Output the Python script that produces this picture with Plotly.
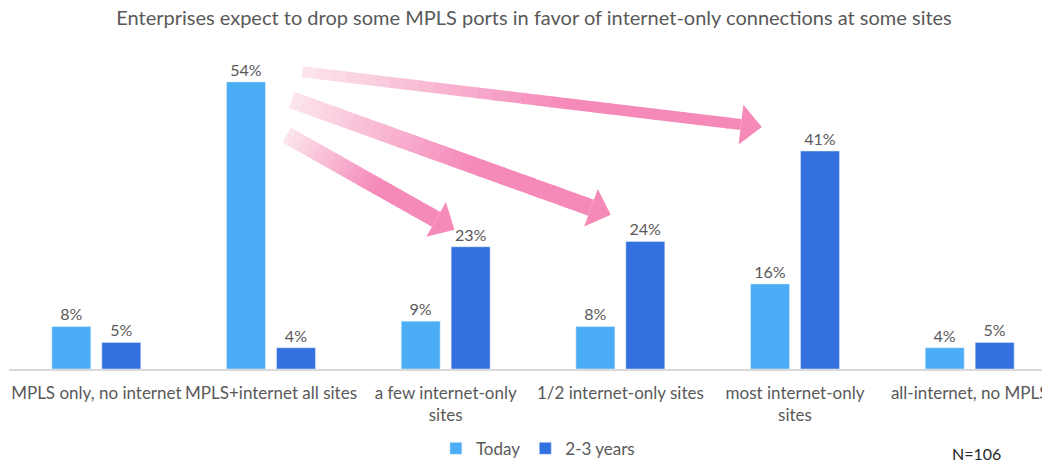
import plotly.graph_objects as go
import numpy as np

categories = ["MPLS only, no internet", "MPLS+internet all sites", "a few internet-only<br>sites",
              "1/2 internet-only sites", "most internet-only<br>sites", "all-internet, no MPLS"]
today = [8, 54, 9, 8, 16, 4]
future = [5, 4, 23, 24, 41, 5]
series_names = ["Today", "2-3 years"]
title_text = "Enterprises expect to drop some MPLS ports in favor of internet-only connections at some sites"
note_text = "N=106"

# arrows: (from category index, from value) -> (to category index, to value), shaft width px
arrows = [
    ((1.18, 55.9), (3.81, 45.5), 11),
    ((1.12, 50.6), (2.945, 29.0), 17),
    ((1.09, 44.0), (2.05, 26.2), 17),
]

W, H = 1042, 464
ML, MR, MT, MB = 9, 0, 50, 95
XR = [-0.5, 5.414]
YR = [0, 60]
PW, PH = W - ML - MR, H - MT - MB

LIGHT = "#4AADF5"
DARK = "#3371E0"
GREY = "#595959"
FONT = "Lato"

fig = go.Figure()
fig.add_bar(x=list(range(len(categories))), y=today, name=series_names[0], marker_color=LIGHT,
            texttemplate="%{y}%", textposition="outside", cliponaxis=False,
            textfont=dict(size=16, color=GREY, family=FONT))
fig.add_bar(x=list(range(len(categories))), y=future, name=series_names[1], marker_color=DARK,
            texttemplate="%{y}%", textposition="outside", cliponaxis=False,
            textfont=dict(size=16, color=GREY, family=FONT))


def to_px(x, y):
    px = ML + (x - XR[0]) / (XR[1] - XR[0]) * PW
    py = MT + PH - (y - YR[0]) / (YR[1] - YR[0]) * PH
    return np.array([px, py])


def to_paper(p):
    return (p[0] - ML) / PW, (MT + PH - p[1]) / PH


def lerp_color(c1, c2, t):
    a = [int(c1[i:i + 2], 16) for i in (1, 3, 5)]
    b = [int(c2[i:i + 2], 16) for i in (1, 3, 5)]
    c = [round(a[k] + (b[k] - a[k]) * t) for k in range(3)]
    return "rgb(%d,%d,%d)" % tuple(c)


def poly_path(pts):
    s = ""
    for i, p in enumerate(pts):
        x, y = to_paper(p)
        s += ("M" if i == 0 else "L") + f"{x:.5f},{y:.5f} "
    return s + "Z"


shapes = []
C0, C1 = "#FCE6EE", "#F589B8"
for (x0, y0), (x1, y1), sw in arrows:
    a = to_px(x0, y0)
    b = to_px(x1, y1)
    d = b - a
    L = np.linalg.norm(d)
    u = d / L
    n = np.array([-u[1], u[0]])
    head_len, head_w = 21, 40
    shaft_end = b - u * head_len
    N = 30
    for i in range(N):
        t0, t1 = i / N, (i + 1) / N + 0.004
        p0 = a + (shaft_end - a) * t0
        p1 = a + (shaft_end - a) * min(t1, 1.0)
        pts = [p0 + n * sw / 2, p1 + n * sw / 2, p1 - n * sw / 2, p0 - n * sw / 2]
        tc = min(1.0, (t0 + 0.5 / N) / 0.6)
        shapes.append(dict(type="path", xref="paper", yref="paper", path=poly_path(pts),
                           fillcolor=lerp_color(C0, C1, tc), line=dict(width=0), layer="above"))
    pts = [shaft_end + n * head_w / 2, b, shaft_end - n * head_w / 2]
    shapes.append(dict(type="path", xref="paper", yref="paper", path=poly_path(pts),
                       fillcolor=C1, line=dict(width=0), layer="above"))

fig.update_layout(
    width=W, height=H,
    margin=dict(l=ML, r=MR, t=MT, b=MB, autoexpand=False),
    plot_bgcolor="white", paper_bgcolor="white",
    barmode="group", bargap=0.428, bargroupgap=0.22,
    title=dict(text=title_text, x=0.5125, xanchor="center", y=0.961, yanchor="middle",
               font=dict(size=20, color=GREY, family=FONT)),
    xaxis=dict(range=XR, tickmode="array", tickvals=list(range(len(categories))), ticktext=categories,
               showline=True, linecolor="#D9D9D9", linewidth=1.5, showgrid=False, zeroline=False,
               ticks="", ticklabelstandoff=8, ticklabeloverflow="allow", automargin=False,
               tickfont=dict(size=17, color=GREY, family=FONT)),
    yaxis=dict(range=YR, visible=False, showgrid=False, zeroline=False),
    legend=dict(orientation="h", x=0.512, xanchor="center", y=-0.25, yanchor="middle",
                font=dict(size=17, color=GREY, family=FONT), itemwidth=30, tracegroupgap=0),
    showlegend=True,
    shapes=shapes,
    annotations=[dict(text=note_text, xref="paper", yref="paper", x=0.937, y=-0.266,
                      showarrow=False, xanchor="center", yanchor="middle",
                      font=dict(size=16, color="#262626", family=FONT))],
)

fig.write_html("out.html", config={"displayModeBar": False},
               post_script="document.body.style.margin='0';document.body.style.overflow='hidden';")
